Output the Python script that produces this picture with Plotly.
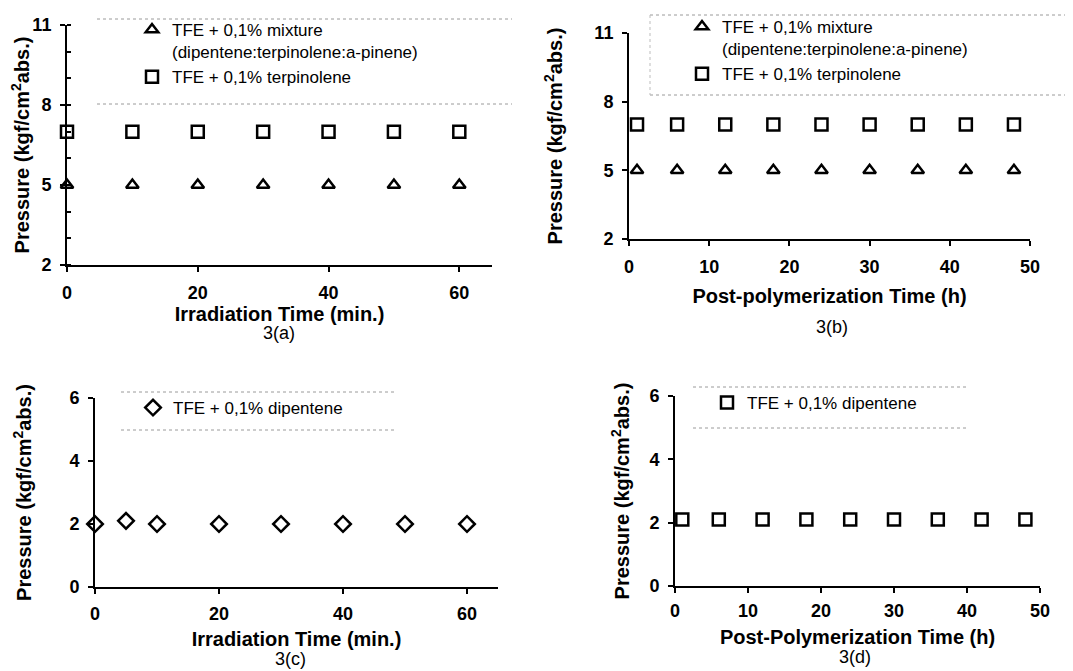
import plotly.graph_objects as go

# ---- data ----
time_a = [0, 10, 20, 30, 40, 50, 60]
mix_a = [5, 5, 5, 5, 5, 5, 5]
terp_a = [7, 7, 7, 7, 7, 7, 7]

time_b = [1, 6, 12, 18, 24, 30, 36, 42, 48]
mix_b = [5, 5, 5, 5, 5, 5, 5, 5, 5]
terp_b = [7, 7, 7, 7, 7, 7, 7, 7, 7]

time_c = [0, 5, 10, 20, 30, 40, 50, 60]
dip_c = [2, 2.1, 2, 2, 2, 2, 2, 2]

time_d = [1, 6, 12, 18, 24, 30, 36, 42, 48]
dip_d = [2.1, 2.1, 2.1, 2.1, 2.1, 2.1, 2.1, 2.1, 2.1]

name_mix = "TFE + 0,1% mixture<br>(dipentene:terpinolene:a-pinene)"
name_terp = "TFE + 0,1% terpinolene"
name_dip = "TFE + 0,1% dipentene"

xtitle_a = "Irradiation Time (min.)"
xtitle_b = "Post-polymerization Time (h)"
xtitle_c = "Irradiation Time (min.)"
xtitle_d = "Post-Polymerization Time (h)"
ytitle = "Pressure (kgf/cm<sup>2</sup>abs.)"
panel_labels = ["3(a)", "3(b)", "3(c)", "3(d)"]

# page body has an 8px margin: size the figure to the visible area
OFF = 8
W, H = 1073 - OFF, 671 - OFF
FONT = "Arial, Liberation Sans, sans-serif"


def px_x(p):
    return (p - OFF) / W


def px_y(p):
    return 1 - (p - OFF) / H


def mk(sym, size):
    return dict(symbol=sym, size=size, color="black", line=dict(color="black", width=2.5))


fig = go.Figure()
fig.add_trace(go.Scatter(x=time_a, y=mix_a, mode="markers", name=name_mix, marker=mk("triangle-up-open", 11),
                         xaxis="x", yaxis="y", legend="legend", cliponaxis=False))
fig.add_trace(go.Scatter(x=time_a, y=terp_a, mode="markers", name=name_terp, marker=mk("square-open", 12),
                         xaxis="x", yaxis="y", legend="legend", cliponaxis=False))
fig.add_trace(go.Scatter(x=time_b, y=mix_b, mode="markers", name=name_mix, marker=mk("triangle-up-open", 11),
                         xaxis="x2", yaxis="y2", legend="legend2", cliponaxis=False))
fig.add_trace(go.Scatter(x=time_b, y=terp_b, mode="markers", name=name_terp, marker=mk("square-open", 12),
                         xaxis="x2", yaxis="y2", legend="legend2", cliponaxis=False))
fig.add_trace(go.Scatter(x=time_c, y=dip_c, mode="markers", name=name_dip, marker=mk("diamond-open", 12),
                         xaxis="x3", yaxis="y3", legend="legend3", cliponaxis=False))
fig.add_trace(go.Scatter(x=time_d, y=dip_d, mode="markers", name=name_dip, marker=mk("square-open", 12),
                         xaxis="x4", yaxis="y4", legend="legend4", cliponaxis=False))

axis_common = dict(showline=True, linecolor="black", linewidth=2, ticks="outside", ticklen=5,
                   tickwidth=2, tickcolor="black", showgrid=False, zeroline=False, automargin=False,
                   tickfont=dict(family=FONT, size=18, color="black", weight="bold"))
title_font = dict(family=FONT, size=20, color="black", weight="bold")

fig.update_layout(
    width=W, height=H, margin=dict(l=0, r=0, t=0, b=0),
    paper_bgcolor="white", plot_bgcolor="white",
    font=dict(family=FONT, color="black"),
    xaxis=dict(axis_common, domain=[px_x(67), px_x(492)], anchor="y", range=[0, 65], tickvals=[0, 20, 40, 60],
               ticklabelstandoff=5, title=dict(text=xtitle_a, font=title_font, standoff=2)),
    yaxis=dict(axis_common, domain=[px_y(265), px_y(25)], anchor="x", range=[2, 11], tickvals=[2, 5, 8, 11],
               ticklabelstandoff=5, minor=dict(dtick=1, ticks="inside", ticklen=4, tickwidth=2, tickcolor="black"),
               title=dict(text=ytitle, font=title_font, standoff=0)),
    xaxis2=dict(axis_common, domain=[px_x(629), px_x(1030)], anchor="y2", range=[0, 50], dtick=10,
                ticklabelstandoff=5, title=dict(text=xtitle_b, font=title_font, standoff=13)),
    yaxis2=dict(axis_common, domain=[px_y(239), px_y(33)], anchor="x2", range=[2, 11], tickvals=[2, 5, 8, 11],
                ticklabelstandoff=5, title=dict(text=ytitle, font=title_font, standoff=26)),
    xaxis3=dict(axis_common, domain=[px_x(95), px_x(498)], anchor="y3", range=[0, 65], tickvals=[0, 20, 40, 60],
                ticklabelstandoff=4, title=dict(text=xtitle_c, font=title_font, standoff=9)),
    yaxis3=dict(axis_common, domain=[px_y(587), px_y(398)], anchor="x3", range=[0, 6], tickvals=[0, 2, 4, 6],
                ticklabelstandoff=5, title=dict(text=ytitle, font=title_font, standoff=32)),
    xaxis4=dict(axis_common, domain=[px_x(675), px_x(1040)], anchor="y4", range=[0, 50], dtick=10,
                ticklabelstandoff=2, title=dict(text=xtitle_d, font=title_font, standoff=10)),
    yaxis4=dict(axis_common, domain=[px_y(586), px_y(396)], anchor="x4", range=[0, 6], tickvals=[0, 2, 4, 6],
                ticklabelstandoff=5, title=dict(text=ytitle, font=title_font, standoff=14)),
)

leg_common = dict(xanchor="left", yanchor="top", bgcolor="rgba(0,0,0,0)", borderwidth=0,
                  font=dict(family=FONT, size=17, color="black"), valign="top", tracegroupgap=0)
fig.update_layout(
    legend=dict(leg_common, x=px_x(132), y=px_y(12)),
    legend2=dict(leg_common, x=px_x(682), y=px_y(9)),
    legend3=dict(leg_common, x=px_x(133), y=px_y(390)),
    legend4=dict(leg_common, x=px_x(707), y=px_y(385)),
)

# dotted legend frame lines
frame_lines = [
    (97, 512, 19), (97, 512, 104),
    (650, 1073, 15), (650, 1073, 95),
    (121, 396, 392), (121, 396, 430),
    (693, 967, 387), (693, 967, 428),
]
for x0, x1, yy in frame_lines:
    fig.add_shape(type="line", xref="paper", yref="paper", x0=px_x(x0), x1=px_x(x1), y0=px_y(yy), y1=px_y(yy),
                  line=dict(color="#9a9a9a", width=1, dash="dot"))
fig.add_shape(type="line", xref="paper", yref="paper", x0=px_x(650), x1=px_x(650), y0=px_y(15), y1=px_y(95),
              line=dict(color="#bdbdbd", width=1, dash="dot"))

label_pos = [(279, 333), (832, 327), (290, 659), (855, 657)]
for txt, (cx, cy) in zip(panel_labels, label_pos):
    fig.add_annotation(text=txt, x=px_x(cx), y=px_y(cy), xref="paper", yref="paper", showarrow=False,
                       xanchor="center", yanchor="middle", borderpad=0,
                       font=dict(family=FONT, size=18, color="black"))

fig.write_html("out.html")
